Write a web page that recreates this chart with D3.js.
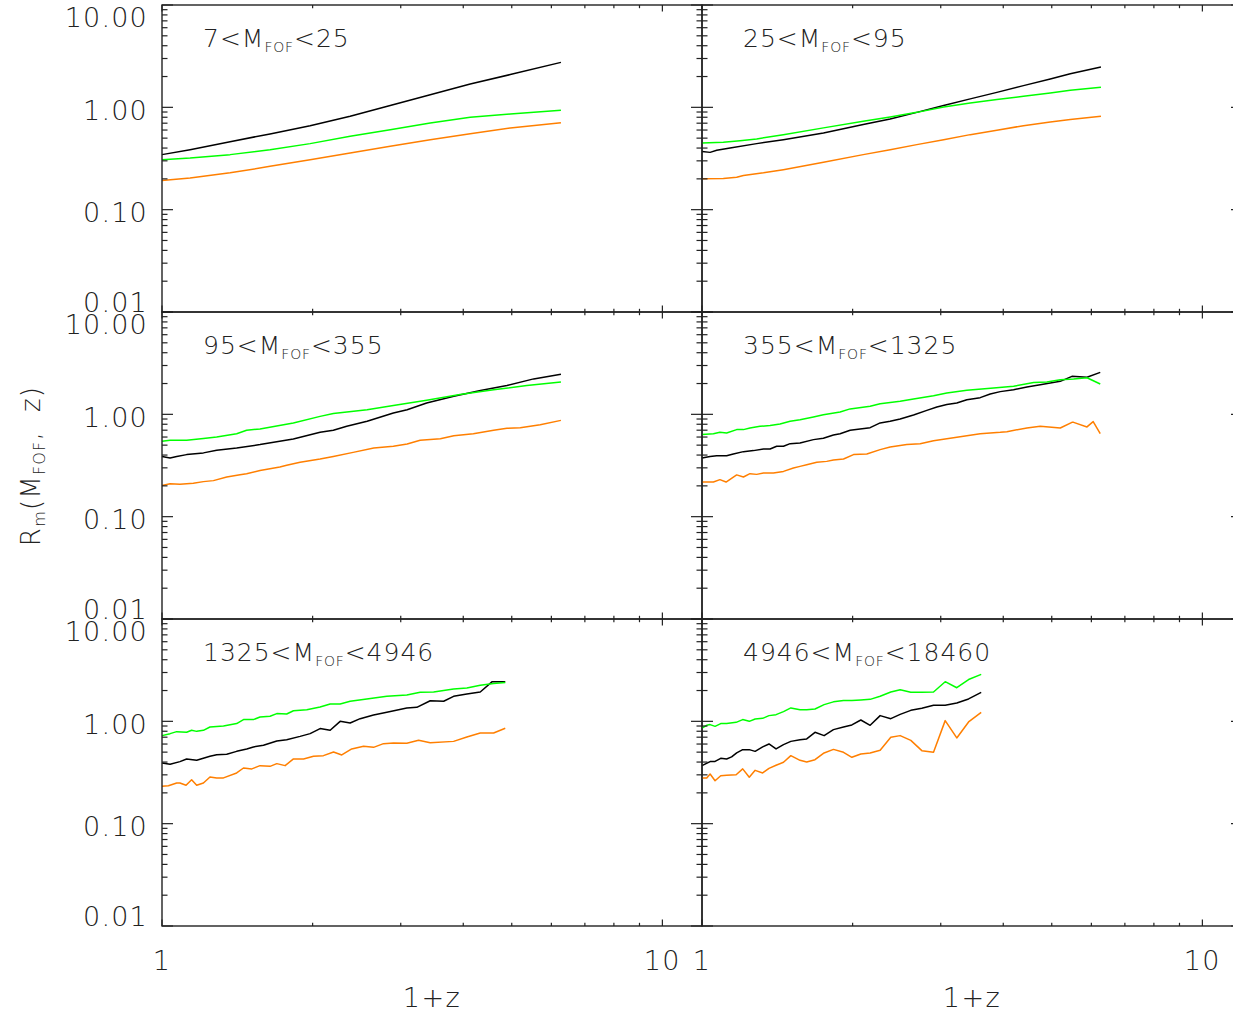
<!DOCTYPE html>
<html><head><meta charset="utf-8">
<script src="https://cdn.jsdelivr.net/npm/d3@7"></script>
<style>
html,body{margin:0;padding:0;background:#fff;}
svg text{font-family:"DejaVu Sans",sans-serif;font-weight:200;fill:#222;}
</style></head>
<body><svg id="c" width="1233" height="1014"></svg>
<script>
// ---------- data: [1+z, R_m] ----------
const titlesLo = ["7","25","95","355","1325","4946"];
const titlesHi = ["25","95","355","1325","4946","18460"];
const xTickLabels = ["1","10"];
const yTickLabels = ["0.01","0.10","1.00","10.00"];

const p1Black  = [[1.00,0.345],[1.138,0.386],[1.368,0.462],[1.644,0.55],[1.977,0.662],[2.377,0.817],[2.858,1.04],[3.436,1.33],[4.13,1.69],[4.966,2.09],[6.27,2.75]];
const p1Green  = [[1.00,0.308],[1.138,0.32],[1.368,0.345],[1.644,0.386],[1.977,0.442],[2.377,0.521],[2.858,0.605],[3.436,0.703],[4.13,0.798],[4.966,0.861],[6.27,0.935]];
const p1Orange = [[1.00,0.193],[1.138,0.204],[1.368,0.229],[1.644,0.265],[1.977,0.308],[2.377,0.358],[2.858,0.416],[3.436,0.483],[4.13,0.553],[4.966,0.629],[6.27,0.708]];

const p2Black  = [[1.00,0.371],[1.038,0.363],[1.07,0.38],[1.138,0.401],[1.286,0.442],[1.454,0.483],[1.749,0.562],[2.10,0.678],[2.377,0.77],[2.687,0.893],[3.04,1.04],[3.436,1.21],[3.884,1.40],[4.39,1.63],[4.966,1.89],[5.445,2.13],[6.27,2.48]];
const p2Green  = [[1.00,0.449],[1.103,0.455],[1.191,0.472],[1.286,0.491],[1.454,0.541],[1.749,0.63],[2.10,0.73],[2.377,0.805],[2.687,0.893],[3.04,1.01],[3.436,1.10],[3.884,1.19],[4.39,1.28],[4.966,1.38],[5.445,1.47],[6.27,1.57]];
const p2Orange = [[1.00,0.201],[1.103,0.202],[1.173,0.207],[1.21,0.216],[1.327,0.229],[1.454,0.246],[1.749,0.29],[2.10,0.345],[2.377,0.386],[2.687,0.432],[3.04,0.483],[3.436,0.541],[3.884,0.596],[4.39,0.662],[4.966,0.72],[5.445,0.759],[6.27,0.817]];

const p3Black  = [[1.00,0.388],[1.038,0.375],[1.07,0.388],[1.12,0.404],[1.21,0.42],[1.286,0.445],[1.41,0.469],[1.57,0.506],[1.83,0.574],[2.07,0.667],[2.20,0.698],[2.34,0.764],[2.57,0.855],[2.90,1.03],[3.09,1.11],[3.38,1.29],[3.83,1.50],[4.33,1.71],[4.89,1.91],[5.53,2.22],[6.27,2.46]];
const p3Green  = [[1.00,0.545],[1.038,0.557],[1.12,0.557],[1.21,0.582],[1.286,0.601],[1.41,0.647],[1.476,0.698],[1.57,0.72],[1.83,0.824],[2.07,0.955],[2.20,1.02],[2.57,1.11],[2.90,1.22],[3.38,1.37],[3.94,1.56],[4.60,1.74],[5.36,1.91],[6.27,2.07]];
const p3Orange = [[1.00,0.202],[1.038,0.21],[1.086,0.207],[1.155,0.212],[1.21,0.22],[1.267,0.225],[1.347,0.244],[1.432,0.257],[1.476,0.263],[1.57,0.282],[1.72,0.306],[1.775,0.318],[1.888,0.34],[2.07,0.366],[2.20,0.388],[2.41,0.425],[2.65,0.469],[2.90,0.487],[3.09,0.513],[3.28,0.557],[3.60,0.578],[3.83,0.619],[4.19,0.647],[4.60,0.698],[4.89,0.73],[5.20,0.741],[5.70,0.793],[6.27,0.873]];

const p4Black  = [[1.00,0.375],[1.038,0.388],[1.07,0.394],[1.12,0.394],[1.155,0.41],[1.21,0.432],[1.267,0.442],[1.327,0.459],[1.368,0.459],[1.41,0.487],[1.455,0.487],[1.50,0.517],[1.57,0.525],[1.67,0.566],[1.748,0.583],[1.831,0.628],[1.888,0.647],[1.977,0.698],[2.07,0.72],[2.168,0.741],[2.27,0.824],[2.377,0.855],[2.489,0.902],[2.647,0.986],[2.814,1.094],[2.947,1.18],[3.085,1.245],[3.23,1.29],[3.383,1.39],[3.597,1.456],[3.767,1.58],[3.945,1.667],[4.195,1.74],[4.46,1.85],[4.742,1.95],[5.20,2.10],[5.487,2.35],[5.88,2.30],[6.25,2.57]];
const p4Green  = [[1.00,0.634],[1.054,0.647],[1.086,0.667],[1.12,0.658],[1.173,0.709],[1.21,0.709],[1.247,0.736],[1.306,0.764],[1.368,0.776],[1.432,0.805],[1.50,0.855],[1.57,0.887],[1.67,0.944],[1.748,0.99],[1.888,1.055],[1.977,1.13],[2.168,1.197],[2.27,1.27],[2.489,1.34],[2.647,1.41],[2.902,1.52],[3.085,1.62],[3.383,1.72],[3.826,1.81],[4.195,1.88],[4.60,2.05],[4.89,2.07],[5.20,2.18],[5.53,2.22],[5.88,2.28],[6.25,1.98]];
const p4Orange = [[1.00,0.218],[1.054,0.218],[1.086,0.23],[1.117,0.218],[1.173,0.256],[1.21,0.244],[1.247,0.263],[1.286,0.259],[1.327,0.267],[1.389,0.267],[1.455,0.277],[1.523,0.299],[1.57,0.31],[1.619,0.322],[1.696,0.34],[1.775,0.347],[1.831,0.358],[1.918,0.366],[2.008,0.404],[2.135,0.41],[2.27,0.452],[2.377,0.48],[2.566,0.506],[2.729,0.517],[2.902,0.553],[3.085,0.578],[3.383,0.619],[3.597,0.647],[3.945,0.667],[4.067,0.677],[4.46,0.736],[4.742,0.764],[5.20,0.736],[5.487,0.835],[5.53,0.835],[5.88,0.753],[6.05,0.849],[6.25,0.647]];

const p5Black  = [[1.00,0.392],[1.038,0.38],[1.086,0.404],[1.12,0.429],[1.173,0.416],[1.247,0.455],[1.286,0.472],[1.347,0.476],[1.41,0.509],[1.477,0.537],[1.523,0.562],[1.595,0.583],[1.696,0.643],[1.775,0.662],[1.888,0.713],[1.977,0.758],[2.07,0.849],[2.168,0.817],[2.27,1.00],[2.377,0.964],[2.489,1.062],[2.647,1.155],[2.814,1.225],[3.085,1.352],[3.23,1.371],[3.436,1.59],[3.655,1.57],[3.826,1.756],[4.067,1.853],[4.325,1.937],[4.564,2.43],[4.853,2.43]];
const p5Green  = [[1.00,0.725],[1.038,0.758],[1.07,0.793],[1.12,0.781],[1.146,0.817],[1.173,0.798],[1.21,0.817],[1.247,0.881],[1.327,0.902],[1.41,0.95],[1.455,1.04],[1.523,1.04],[1.57,1.104],[1.644,1.12],[1.696,1.19],[1.775,1.18],[1.831,1.27],[1.947,1.30],[2.07,1.38],[2.168,1.48],[2.27,1.48],[2.377,1.57],[2.566,1.655],[2.814,1.756],[3.085,1.81],[3.281,1.92],[3.49,1.937],[3.826,2.07],[4.067,2.12],[4.325,2.25],[4.60,2.34],[4.853,2.40]];
const p5Orange = [[1.00,0.232],[1.03,0.235],[1.07,0.25],[1.086,0.25],[1.117,0.237],[1.146,0.269],[1.173,0.237],[1.21,0.25],[1.247,0.286],[1.286,0.28],[1.327,0.28],[1.41,0.313],[1.455,0.35],[1.512,0.343],[1.57,0.369],[1.644,0.363],[1.696,0.386],[1.762,0.369],[1.831,0.429],[1.918,0.429],[2.008,0.455],[2.102,0.462],[2.202,0.502],[2.287,0.469],[2.394,0.537],[2.528,0.57],[2.647,0.557],[2.771,0.605],[2.902,0.615],[3.085,0.61],[3.257,0.652],[3.436,0.619],[3.826,0.637],[4.067,0.703],[4.325,0.77],[4.60,0.77],[4.853,0.855]];

const p6Black  = [[1.00,0.369],[1.038,0.404],[1.062,0.406],[1.09,0.435],[1.12,0.429],[1.146,0.449],[1.173,0.491],[1.206,0.529],[1.243,0.529],[1.277,0.509],[1.322,0.562],[1.361,0.601],[1.406,0.537],[1.455,0.592],[1.505,0.637],[1.57,0.662],[1.619,0.673],[1.682,0.781],[1.754,0.725],[1.831,0.83],[1.918,0.881],[1.993,0.922],[2.077,1.03],[2.168,0.914],[2.27,1.137],[2.384,1.062],[2.489,1.17],[2.614,1.28],[2.75,1.34],[2.902,1.433],[3.062,1.433],[3.23,1.51],[3.41,1.655],[3.614,1.92]];
const p6Green  = [[1.00,0.861],[1.022,0.914],[1.038,0.929],[1.062,0.893],[1.09,0.95],[1.12,0.95],[1.17,0.978],[1.206,1.04],[1.243,1.00],[1.277,1.055],[1.322,1.07],[1.361,1.137],[1.406,1.162],[1.455,1.245],[1.505,1.352],[1.57,1.30],[1.619,1.30],[1.682,1.32],[1.754,1.456],[1.831,1.55],[1.918,1.60],[1.993,1.60],[2.077,1.62],[2.168,1.64],[2.27,1.756],[2.384,1.937],[2.489,2.04],[2.614,1.92],[2.75,1.92],[2.902,1.937],[3.062,2.44],[3.23,2.13],[3.41,2.56],[3.614,2.88]];
const p6Orange = [[1.00,0.28],[1.022,0.28],[1.038,0.306],[1.062,0.263],[1.09,0.294],[1.12,0.297],[1.17,0.301],[1.206,0.343],[1.243,0.284],[1.277,0.332],[1.322,0.313],[1.361,0.347],[1.406,0.372],[1.455,0.398],[1.505,0.462],[1.57,0.416],[1.619,0.401],[1.682,0.422],[1.754,0.491],[1.831,0.532],[1.918,0.498],[1.993,0.445],[2.077,0.48],[2.168,0.491],[2.27,0.521],[2.384,0.698],[2.489,0.725],[2.614,0.652],[2.75,0.517],[2.902,0.498],[3.062,1.016],[3.23,0.688],[3.41,0.986],[3.614,1.225]];

const panelData = [
  [p1Black,p1Green,p1Orange],[p2Black,p2Green,p2Orange],
  [p3Black,p3Green,p3Orange],[p4Black,p4Green,p4Orange],
  [p5Black,p5Green,p5Orange],[p6Black,p6Green,p6Orange]
];
const seriesColors = ["#000000","#00ff00","#ff7f00"];

// ---------- layout ----------
const svg = d3.select("#c");
const PW = 540, PH = 307, X0 = [162, 702], Y0 = 5;
const xMajor = [1,10], xMinor = [2,3,4,5,6,7,8,9];
const yMajor = [0.01,0.1,1,10];
const yMinor = [];
[0.01,0.1,1].forEach(d => { for (let k=2;k<=9;k++) yMinor.push(+(k*d).toFixed(3)); });
const axisColor = "#222";

panelData.forEach((series, i) => {
  const col = i % 2, row = Math.floor(i / 2);
  const left = X0[col], top = Y0 + row * PH;
  const x = d3.scaleLog().domain([1,12]).range([left, left + PW]);
  const y = d3.scaleLog().domain([0.01,10]).range([top + PH, top]);
  const g = svg.append("g");

  const line = d3.line().x(d => x(d[0])).y(d => y(d[1]));
  series.forEach((s, k) => {
    g.append("path").datum(s).attr("d", line)
      .attr("fill","none").attr("stroke", seriesColors[k])
      .attr("stroke-width",1.5).attr("stroke-linejoin","round");
  });

  g.append("rect").attr("x",left).attr("y",top).attr("width",PW).attr("height",PH)
    .attr("fill","none").attr("stroke",axisColor).attr("stroke-width",1.4);

  const xt = (vals, len) => vals.forEach(v => {
    const px = x(v);
    g.append("line").attr("x1",px).attr("x2",px).attr("y1",top+PH).attr("y2",top+PH-len)
      .attr("stroke",axisColor).attr("stroke-width",1.2);
    g.append("line").attr("x1",px).attr("x2",px).attr("y1",top).attr("y2",top+len)
      .attr("stroke",axisColor).attr("stroke-width",1.2);
  });
  xt(xMajor, 6.5); xt(xMinor, 3.2);
  const yt = (vals, len) => vals.forEach(v => {
    const py = y(v);
    g.append("line").attr("x1",left).attr("x2",left+len).attr("y1",py).attr("y2",py)
      .attr("stroke",axisColor).attr("stroke-width",1.2);
    g.append("line").attr("x1",left+PW).attr("x2",left+PW-len).attr("y1",py).attr("y2",py)
      .attr("stroke",axisColor).attr("stroke-width",1.2);
  });
  yt(yMajor, 11); yt(yMinor, 5.5);

  if (col === 0) {
    yMajor.forEach((v, j) => {
      const py = y(v);
      const base = Math.min(top + PH, Math.max(top + 22, py + 12.5));
      svg.append("text").attr("x", left - 14).attr("y", base)
        .attr("text-anchor","end").attr("font-size",27).attr("letter-spacing",1.2)
        .text(yTickLabels[j]);
    });
  }
  if (row === 2) {
    xMajor.forEach((v, j) => {
      svg.append("text").attr("x", x(v)).attr("y", top + PH + 44)
        .attr("text-anchor","middle").attr("font-size",27).attr("letter-spacing",1.5)
        .text(xTickLabels[j]);
    });
    svg.append("text").attr("x", left + PW/2).attr("y", top + PH + 81)
      .attr("text-anchor","middle").attr("font-size",27).attr("letter-spacing",1.5)
      .text("1+z");
  }

  const tt = svg.append("text").attr("x", left + 41).attr("y", top + 42)
    .attr("font-size",25).attr("letter-spacing",1);
  tt.append("tspan").text(titlesLo[i] + "<M");
  tt.append("tspan").attr("dy",5).attr("font-size",14).attr("letter-spacing",0.8).text("FOF");
  tt.append("tspan").attr("dy",-5).text("<" + titlesHi[i]);
});

const ya = svg.append("text").attr("transform","translate(40,466) rotate(-90)")
  .attr("text-anchor","middle").attr("font-size",26).attr("letter-spacing",1.2);
ya.append("tspan").text("R");
ya.append("tspan").attr("dy",5).attr("font-size",16).text("m");
ya.append("tspan").attr("dy",-5).text("(M");
ya.append("tspan").attr("dy",5).attr("font-size",16).text("FOF");
ya.append("tspan").attr("dy",-5).attr("xml:space","preserve").text(",  z)");
</script></body></html>
